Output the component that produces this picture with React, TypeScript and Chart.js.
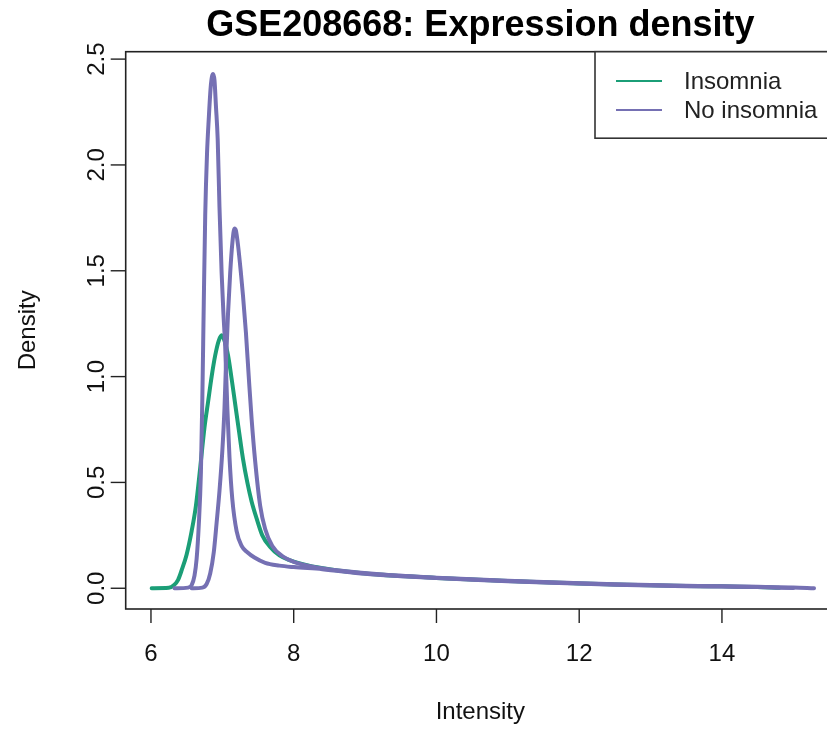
import React, { useEffect, useRef } from "react";
import { Chart, registerables } from "chart.js";

Chart.register(...registerables);

// ---- data ----
const seriesLabels = ["Insomnia", "No insomnia"];
const seriesColors = ["#1B9E77", "#7570B3"];

const xTicks = [6, 8, 10, 12, 14];
const yTicks = [0, 0.5, 1, 1.5, 2, 2.5];
const yTickLabels = ["0.0", "0.5", "1.0", "1.5", "2.0", "2.5"];

// Insomnia sample
const insomniaX = [6.01, 6.25, 6.32, 6.38, 6.43, 6.5, 6.57, 6.63, 6.69, 6.75, 6.8, 6.85, 6.9, 6.95, 6.99, 7.03, 7.08, 7.13, 7.18, 7.23, 7.29, 7.35, 7.41, 7.48, 7.56, 7.67, 7.8, 7.95, 8.2, 8.5, 9, 9.5, 10, 10.5, 11, 11.5, 12, 12.5, 13, 13.5, 14, 14.5, 14.8];
const insomniaY = [0, 0.002, 0.014, 0.04, 0.085, 0.16, 0.27, 0.39, 0.57, 0.76, 0.88, 1.0, 1.1, 1.17, 1.195, 1.17, 1.1, 0.99, 0.87, 0.75, 0.61, 0.5, 0.41, 0.33, 0.25, 0.195, 0.155, 0.132, 0.108, 0.09, 0.07, 0.058, 0.049, 0.041, 0.034, 0.028, 0.023, 0.018, 0.014, 0.011, 0.009, 0.006, 0.002];

// No insomnia sample A (tall peak)
const noInsomniaAX = [6.33, 6.52, 6.57, 6.61, 6.64, 6.67, 6.7, 6.72, 6.74, 6.76, 6.785, 6.81, 6.84, 6.87, 6.89, 6.91, 6.935, 6.96, 6.99, 7.015, 7.04, 7.07, 7.1, 7.14, 7.2, 7.27, 7.35, 7.45, 7.6, 7.8, 8.0, 8.4, 9, 9.5, 10, 10.5, 11, 11.5, 12, 12.5, 13, 13.5, 14, 14.5, 15.0];
const noInsomniaAY = [0, 0.003, 0.015, 0.06, 0.14, 0.3, 0.55, 0.9, 1.35, 1.76, 2.05, 2.22, 2.38, 2.43, 2.4, 2.28, 2.12, 1.8, 1.49, 1.3, 1.14, 0.85, 0.62, 0.42, 0.27, 0.2, 0.17, 0.145, 0.12, 0.107, 0.1, 0.09, 0.068, 0.057, 0.048, 0.04, 0.033, 0.027, 0.022, 0.017, 0.013, 0.01, 0.008, 0.006, 0.001];

// No insomnia sample B (second peak)
const noInsomniaBX = [6.57, 6.72, 6.78, 6.83, 6.88, 6.92, 6.96, 7.0, 7.03, 7.055, 7.08, 7.11, 7.14, 7.17, 7.19, 7.22, 7.26, 7.29, 7.33, 7.37, 7.41, 7.46, 7.53, 7.6, 7.7, 7.85, 8.0, 8.3, 8.7, 9.2, 10, 10.5, 11, 11.5, 12, 12.5, 13, 13.5, 14, 14.5, 15, 15.29];
const noInsomniaBY = [0, 0.003, 0.02, 0.07, 0.17, 0.31, 0.46, 0.65, 0.85, 1.1, 1.3, 1.49, 1.63, 1.7, 1.69, 1.62, 1.49, 1.38, 1.21, 1.0, 0.8, 0.6, 0.39, 0.28, 0.2, 0.15, 0.125, 0.1, 0.082, 0.066, 0.05, 0.042, 0.035, 0.029, 0.024, 0.019, 0.015, 0.012, 0.009, 0.007, 0.004, 0];

const toPoints = (xs: number[], ys: number[]) => xs.map((x, i) => ({ x, y: ys[i] }));

const FONT = "'Liberation Sans', Arial, Helvetica, sans-serif";

const W = 840;
const H = 729;

const decorations = {
  id: "rDecorations",
  beforeDraw(chart: any) {
    const ctx = chart.ctx;
    ctx.save();
    ctx.fillStyle = "#ffffff";
    ctx.fillRect(0, 0, chart.width, chart.height);
    ctx.restore();
  },
  afterDraw(chart: any) {
    const ctx = chart.ctx;
    const { left, right, top, bottom } = chart.chartArea;
    const xs = chart.scales.x;
    const ys = chart.scales.y;
    ctx.save();
    // box
    ctx.strokeStyle = "#222";
    ctx.lineWidth = 1.6;
    ctx.strokeRect(left, top, right - left, bottom - top);

    // x ticks
    ctx.lineWidth = 1.4;
    ctx.fillStyle = "#111";
    ctx.font = `24px ${FONT}`;
    ctx.textAlign = "center";
    ctx.textBaseline = "middle";
    xTicks.forEach((t) => {
      const px = xs.getPixelForValue(t);
      ctx.beginPath();
      ctx.moveTo(px, bottom);
      ctx.lineTo(px, bottom + 14);
      ctx.stroke();
      ctx.fillText(String(t), px, 654);
    });
    // y ticks
    yTicks.forEach((t, i) => {
      const py = ys.getPixelForValue(t);
      ctx.beginPath();
      ctx.moveTo(left, py);
      ctx.lineTo(left - 15, py);
      ctx.stroke();
      ctx.save();
      ctx.translate(97, py);
      ctx.rotate(-Math.PI / 2);
      ctx.fillText(yTickLabels[i], 0, 0);
      ctx.restore();
    });

    // axis titles
    ctx.fillText("Intensity", (left + right) / 2, 712);
    ctx.save();
    ctx.translate(28, (top + bottom) / 2);
    ctx.rotate(-Math.PI / 2);
    ctx.fillText("Density", 0, 0);
    ctx.restore();

    // main title
    ctx.font = `bold 36px ${FONT}`;
    ctx.fillStyle = "#000";
    ctx.fillText("GSE208668: Expression density", (left + right) / 2, 26);

    // legend
    const lx = 595;
    const ly = top;
    const lw = right - lx;
    const lh = 86.5;
    ctx.fillStyle = "#fff";
    ctx.fillRect(lx, ly, lw, lh);
    ctx.strokeStyle = "#333";
    ctx.lineWidth = 1.6;
    ctx.strokeRect(lx, ly, lw, lh);
    ctx.font = `24px ${FONT}`;
    ctx.textAlign = "left";
    const rows = [81, 110];
    seriesLabels.forEach((lab, i) => {
      ctx.strokeStyle = seriesColors[i];
      ctx.lineWidth = 2.2;
      ctx.beginPath();
      ctx.moveTo(616, rows[i]);
      ctx.lineTo(662, rows[i]);
      ctx.stroke();
      ctx.fillStyle = "#222";
      ctx.fillText(lab, 684, rows[i] + 1);
    });
    ctx.restore();
  },
};

export default function App() {
  const ref = useRef<HTMLCanvasElement | null>(null);
  useEffect(() => {
    document.body.style.margin = "0";
    document.body.style.overflow = "hidden";
    const canvas = ref.current;
    if (!canvas) return;
    const lineDs = (label: string, pts: any[], color: string, order: number) => ({
      label,
      data: pts,
      borderColor: color,
      backgroundColor: color,
      borderWidth: 4,
      pointRadius: 0,
      fill: false,
      cubicInterpolationMode: "monotone" as const,
      borderJoinStyle: "round" as const,
      borderCapStyle: "round" as const,
      order,
    });
    const chart = new Chart(canvas, {
      type: "line",
      data: {
        datasets: [
          lineDs(seriesLabels[0], toPoints(insomniaX, insomniaY), seriesColors[0], 3),
          lineDs(seriesLabels[1], toPoints(noInsomniaAX, noInsomniaAY), seriesColors[1], 2),
          lineDs(seriesLabels[1], toPoints(noInsomniaBX, noInsomniaBY), seriesColors[1], 1),
        ],
      },
      options: {
        responsive: false,
        animation: false,
        devicePixelRatio: 1,
        layout: { padding: { left: 125.7, top: 51.7, right: W - 835, bottom: H - 609 } },
        scales: {
          x: { type: "linear", min: 5.646, max: 15.584, display: false },
          y: { type: "linear", min: -0.098, max: 2.535, display: false },
        },
        plugins: { legend: { display: false }, tooltip: { enabled: false }, title: { display: false } },
      },
      plugins: [decorations],
    });
    return () => chart.destroy();
  }, []);
  return (
    <div style={{ position: "absolute", left: 0, top: 0, width: 827, height: 729, overflow: "hidden" }}>
      <canvas ref={ref} width={W} height={H} style={{ display: "block", width: W, height: H }} />
    </div>
  );
}
